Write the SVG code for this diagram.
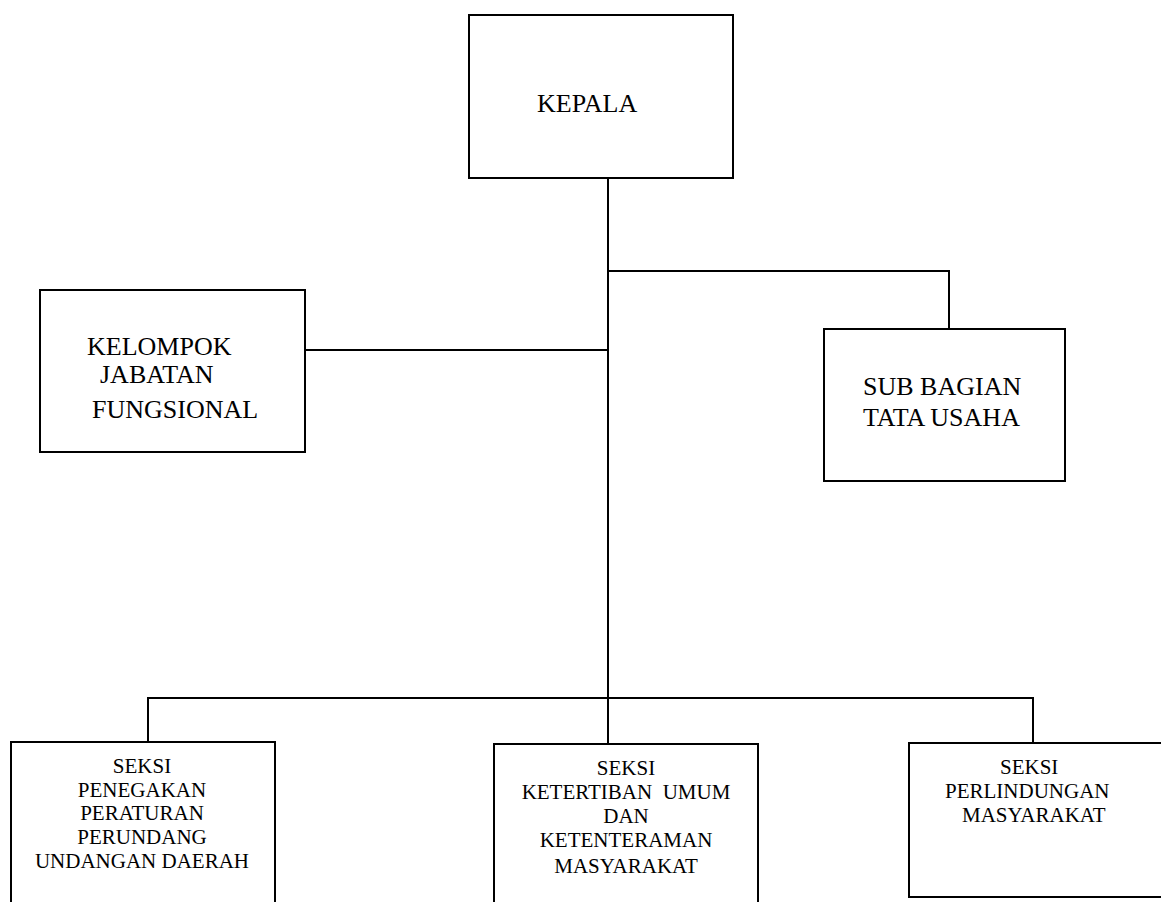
<svg xmlns="http://www.w3.org/2000/svg" width="1161" height="902" viewBox="0 0 1161 902">
<style>
.box{fill:#fff;stroke:#000;stroke-width:2}
.ln{fill:none;stroke:#000;stroke-width:2}
.t{font-family:'Liberation Serif','Times New Roman',serif;fill:#000;white-space:pre}
.big{font-size:26px}
.sm{font-size:21px}
.c{text-anchor:middle}
</style>
<rect width="1161" height="902" fill="#fff"/>
<g id="connectors">
<line class="ln" x1="608" y1="171" x2="608" y2="744"/>
<polyline class="ln" points="608,271 949,271 949,329"/>
<line class="ln" x1="305" y1="350" x2="608" y2="350"/>
<polyline class="ln" points="148,742 148,698 1033,698 1033,743"/>
</g>
<g id="kepala">
<rect class="box" x="469" y="15" width="264" height="163"/>
<text class="t big" x="537" y="112">KEPALA</text>
</g>
<g id="kelompok">
<rect class="box" x="40" y="290" width="265" height="162"/>
<text class="t big" x="87" y="355">KELOMPOK</text>
<text class="t big" x="100" y="383">JABATAN</text>
<text class="t big" x="92" y="418">FUNGSIONAL</text>
</g>
<g id="subbagian">
<rect class="box" x="824" y="329" width="241" height="152"/>
<text class="t big" x="863" y="395">SUB BAGIAN</text>
<text class="t big" x="863" y="426">TATA USAHA</text>
</g>
<g id="seksi-penegakan">
<rect class="box" x="11" y="742" width="264" height="180"/>
<text class="t sm c" x="142" y="773">SEKSI</text>
<text class="t sm c" x="142" y="797">PENEGAKAN</text>
<text class="t sm c" x="142" y="820">PERATURAN</text>
<text class="t sm c" x="142" y="844">PERUNDANG</text>
<text class="t sm c" x="142" y="868">UNDANGAN DAERAH</text>
</g>
<g id="seksi-ketertiban">
<rect class="box" x="494" y="744" width="264" height="180"/>
<text class="t sm c" x="626" y="775">SEKSI</text>
<text class="t sm c" x="626" y="799">KETERTIBAN  UMUM</text>
<text class="t sm c" x="626" y="823">DAN</text>
<text class="t sm c" x="626" y="847">KETENTERAMAN</text>
<text class="t sm c" x="626" y="873">MASYARAKAT</text>
</g>
<g id="seksi-perlindungan">
<rect class="box" x="909" y="743" width="270" height="154"/>
<text class="t sm" x="1000" y="774">SEKSI</text>
<text class="t sm" x="945" y="798">PERLINDUNGAN</text>
<text class="t sm" x="962" y="822">MASYARAKAT</text>
</g>
</svg>
